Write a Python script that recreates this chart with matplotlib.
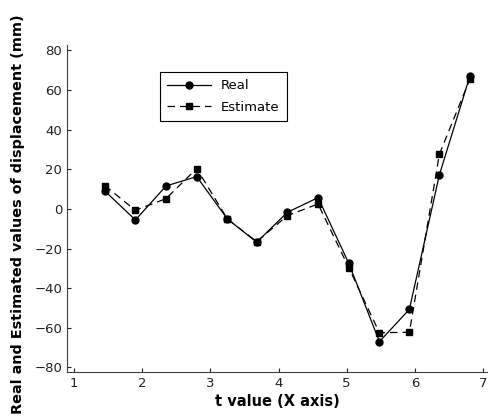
import numpy as np
import matplotlib.pyplot as plt

# t values (X axis)
t = [1.45, 1.90, 2.35, 2.80, 3.25, 3.68, 4.13, 4.58, 5.03, 5.48, 5.92, 6.36, 6.81]

# real displacement (mm)
real = [9.1, -5.6, 11.6, 16.3, -5.1, -16.8, -1.7, 5.7, -27.4, -67.0, -50.7, 17.2, 67.3]

# estimated displacement (mm)
estimate = [11.8, -0.7, 5.2, 20.4, -5.1, -16.5, -3.4, 2.5, -29.6, -62.5, -62.3, 27.6, 65.7]

fig = plt.figure(figsize=(4.93, 4.16), dpi=100)
ax = fig.add_axes([0.136, 0.106, 0.852, 0.786])

ax.plot(t, real, '-', color='black', lw=0.9, marker='o', markersize=5, label='Real')
ax.plot(t, estimate, '--', color='black', lw=0.9, marker='s', markersize=4.5,
        dashes=(6, 4), label='Estimate')

ax.set_xlim(0.897, 7.06)
ax.set_ylim(-82.3, 82.8)
ax.set_xticks(range(1, 8))
ax.set_yticks(range(-80, 81, 20))

ax.spines['top'].set_visible(False)
ax.spines['right'].set_visible(False)
ax.spines['left'].set_color('#404040')
ax.spines['bottom'].set_color('#404040')
ax.tick_params(direction='in', length=3, labelsize=9.5, colors='#222222')

ax.set_xlabel('t value (X axis)', fontsize=10.5, fontweight='bold', labelpad=3)
ax.set_ylabel('Real and Estimated values of displacement (mm)', fontsize=10.4,
              fontweight='bold')
ax.yaxis.set_label_coords(-0.1, 0.483)

leg = ax.legend(loc='upper left', bbox_to_anchor=(0.221, 0.917), fontsize=9.5,
                fancybox=False, framealpha=1, edgecolor='black',
                handlelength=3.3, borderpad=0.55, labelspacing=0.62,
                borderaxespad=0)
leg.get_frame().set_linewidth(0.8)

plt.savefig('out.png', dpi=100)
plt.close()
